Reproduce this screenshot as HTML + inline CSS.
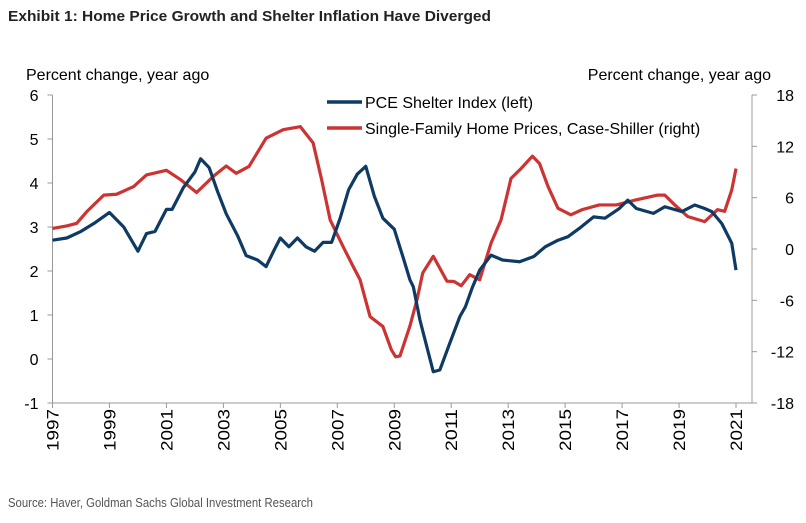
<!DOCTYPE html>
<html><head><meta charset="utf-8">
<style>
body{margin:0;background:#fff;width:806px;height:518px;overflow:hidden;font-family:"Liberation Sans",sans-serif}
svg text{font-family:"Liberation Sans",sans-serif}
</style></head>
<body>
<svg id="chart" width="806" height="518" xmlns="http://www.w3.org/2000/svg">
<text x="8" y="21" font-size="15" font-weight="bold" fill="#222" textLength="483" lengthAdjust="spacingAndGlyphs">Exhibit 1: Home Price Growth and Shelter Inflation Have Diverged</text>
<text x="26" y="80" font-size="16" fill="#000">Percent change, year ago</text>
<text x="771" y="80" font-size="16" fill="#000" text-anchor="end">Percent change, year ago</text>
<g id="axes"></g>
<g id="series"></g>
<g>
<line x1="327" y1="102" x2="362" y2="102" stroke="#0e3a63" stroke-width="3.5"/>
<text x="365" y="108" font-size="16">PCE Shelter Index (left)</text>
<line x1="327" y1="128" x2="362" y2="128" stroke="#cc3333" stroke-width="3.5"/>
<text x="365" y="134" font-size="16">Single-Family Home Prices, Case-Shiller (right)</text>
</g>
<text x="8" y="507" font-size="12.5" fill="#555" textLength="305" lengthAdjust="spacingAndGlyphs">Source: Haver, Goldman Sachs Global Investment Research</text>
</svg>
<script>
const leftTicks=[6,5,4,3,2,1,0,-1];
const rightTicks=[18,12,6,0,-6,-12,-18];
const yearTicks=[1997,1999,2001,2003,2005,2007,2009,2011,2013,2015,2017,2019,2021];
const pceYears=[1997,1997.5,1998,1998.5,1999,1999.5,2000,2000.3,2000.6,2001,2001.2,2001.6,2002,2002.2,2002.5,2002.8,2003.1,2003.5,2003.8,2004.2,2004.5,2004.8,2005,2005.3,2005.6,2005.9,2006.2,2006.5,2006.8,2007.1,2007.4,2007.7,2008,2008.3,2008.6,2009,2009.32,2009.55,2009.67,2009.9,2010.37,2010.6,2010.95,2011.3,2011.5,2011.75,2012,2012.4,2012.8,2013.4,2013.9,2014.3,2014.75,2015.1,2015.5,2016,2016.4,2016.9,2017.2,2017.5,2018.1,2018.5,2019.1,2019.55,2019.9,2020.15,2020.5,2020.85,2021];
const pceValues=[2.7,2.75,2.9,3.1,3.33,3.0,2.45,2.85,2.9,3.4,3.4,3.9,4.25,4.55,4.35,3.8,3.3,2.8,2.35,2.25,2.1,2.5,2.75,2.55,2.75,2.55,2.45,2.65,2.65,3.2,3.85,4.2,4.38,3.7,3.2,2.95,2.29,1.8,1.64,0.89,-0.29,-0.25,0.36,0.96,1.19,1.64,2.02,2.36,2.25,2.21,2.33,2.55,2.7,2.78,2.97,3.23,3.2,3.42,3.61,3.42,3.31,3.46,3.35,3.5,3.42,3.35,3.08,2.63,2.02];
const hpiYears=[1997,1997.5,1997.85,1998.2,1998.8,1999.25,1999.85,2000.3,2001,2001.5,2002.06,2002.65,2003.1,2003.45,2003.9,2004.5,2005.1,2005.7,2006.15,2006.45,2006.75,2007.2,2007.55,2007.8,2008.15,2008.6,2008.9,2009.05,2009.2,2009.55,2009.8,2010,2010.37,2010.85,2011.1,2011.35,2011.65,2012,2012.4,2012.75,2013.1,2013.45,2013.85,2014.1,2014.4,2014.75,2015.2,2015.6,2016.2,2016.8,2017.5,2018.25,2018.5,2018.85,2019.3,2019.9,2020.35,2020.6,2020.85,2021];
const hpiValues=[2.4,2.7,3.0,4.35,6.3,6.4,7.3,8.65,9.2,8.1,6.6,8.5,9.7,8.85,9.65,12.95,13.95,14.3,12.4,8.1,3.4,0.3,-2.0,-3.6,-7.9,-9.05,-11.8,-12.6,-12.5,-9.0,-5.9,-2.8,-0.85,-3.76,-3.8,-4.3,-3.0,-3.6,0.7,3.4,8.25,9.4,10.85,10.0,7.3,4.75,4.0,4.6,5.15,5.15,5.75,6.3,6.3,5.15,3.8,3.2,4.6,4.4,6.9,9.4];
const NS="http://www.w3.org/2000/svg";
const X0=52.5,PX=28.48,Y0=95,Y1=403,XR=752;
function xs(y){return X0+(y-1997)*PX;}
function yl(v){return Y0+(6-v)*(Y1-Y0)/7;}
function yr(v){return Y0+(18-v)*(Y1-Y0)/36;}
function mk(tag,attrs,parent){const e=document.createElementNS(NS,tag);for(const k in attrs)e.setAttribute(k,attrs[k]);parent.appendChild(e);return e;}
const ax=document.getElementById('axes');
let e=mk('line',{x1:X0,y1:Y0,x2:X0,y2:Y1,stroke:'#999','stroke-width':1},ax);


e=mk('line',{x1:XR,y1:Y0,x2:XR,y2:Y1,stroke:'#999','stroke-width':1},ax);


e=mk('line',{x1:X0,y1:Y1,x2:XR,y2:Y1,stroke:'#999','stroke-width':1},ax);


leftTicks.forEach(v=>{const y=yl(v);mk('line',{x1:X0-5,y1:y,x2:X0,y2:y,stroke:'#999'},ax);
const t=mk('text',{x:X0-14,y:y+6,'font-size':16,'text-anchor':'end'},ax);t.textContent=v;

});
rightTicks.forEach(v=>{const y=yr(v);mk('line',{x1:XR,y1:y,x2:XR+5,y2:y,stroke:'#999'},ax);
const t=mk('text',{x:XR+42,y:y+6,'font-size':16,'text-anchor':'end'},ax);t.textContent=v;

});
yearTicks.forEach(v=>{const x=xs(v);mk('line',{x1:x,y1:Y1,x2:x,y2:Y1+5,stroke:'#999'},ax);
const t=mk('text',{x:0,y:0,'font-size':17,'text-anchor':'end',textLength:42,lengthAdjust:'spacingAndGlyphs',transform:`translate(${x+6},${Y1+6}) rotate(-90)`},ax);t.textContent=v;

});
const sg=document.getElementById('series');
let p=mk('polyline',{points:hpiYears.map((y,i)=>xs(y)+','+yr(hpiValues[i])).join(' '),fill:'none',stroke:'#cc3333','stroke-width':3.2,'stroke-linejoin':'round'},sg);


p=mk('polyline',{points:pceYears.map((y,i)=>xs(y)+','+yl(pceValues[i])).join(' '),fill:'none',stroke:'#0e3a63','stroke-width':3.2,'stroke-linejoin':'round'},sg);


</script>
</body></html>
